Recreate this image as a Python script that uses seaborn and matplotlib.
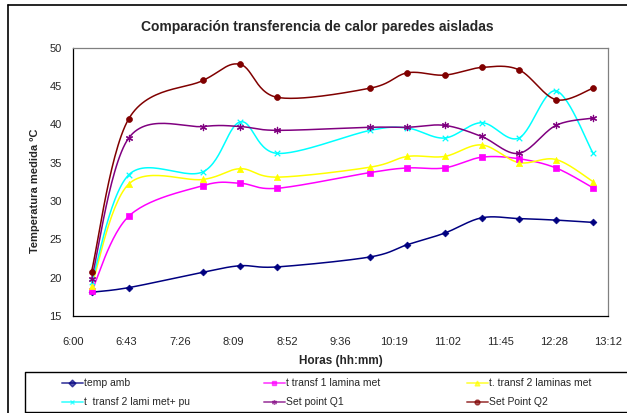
import numpy as np
import pandas as pd
import matplotlib
matplotlib.use("Agg")
import matplotlib.pyplot as plt
from matplotlib.lines import Line2D
import seaborn as sns

# Datos
horas = ["6:15", "6:45", "7:45", "8:15", "8:45", "10:00",
         "10:30", "11:00", "11:30", "12:00", "12:30", "13:00"]
temp_amb = [18.1, 18.7, 20.7, 21.55, 21.4, 22.7, 24.3, 25.8, 27.8, 27.7, 27.5, 27.2]
transf_1_lamina = [18.2, 28.0, 32.0, 32.3, 31.65, 33.7, 34.3, 34.3, 35.7, 35.5, 34.3, 31.7]
transf_2_laminas = [18.9, 32.2, 32.8, 34.2, 33.1, 34.4, 35.8, 35.8, 37.3, 35.0, 35.4, 32.5]
transf_2_lami_pu = [19.4, 33.4, 33.8, 40.3, 36.2, 39.2, 39.5, 38.2, 40.2, 38.2, 44.35, 36.2]
set_point_q1 = [19.8, 38.2, 39.7, 39.7, 39.2, 39.6, 39.6, 39.85, 38.4, 36.2, 39.85, 40.8]
set_point_q2 = [20.8, 40.7, 45.7, 47.8, 43.5, 44.7, 46.7, 46.4, 47.4, 47.1, 43.2, 44.7]

series_nombres = ["temp amb", "t transf 1 lamina met", "t. transf 2 laminas met",
                  "t  transf 2 lami met+ pu", "Set point Q1", "Set Point Q2"]
series_valores = [temp_amb, transf_1_lamina, transf_2_laminas,
                  transf_2_lami_pu, set_point_q1, set_point_q2]
colores = ["#000080", "#FF00FF", "#FFFF00", "#00FFFF", "#800080", "#800000"]
marcadores = ["D", "s", "^", "x", (6, 2, 0), "o"]
tamanos = [12, 15, 20, 16, 20, 18]

tick_labels = ["6:00", "6:43", "7:26", "8:09", "8:52", "9:36",
               "10:19", "11:02", "11:45", "12:28", "13:12"]


def a_minutos(h):
    hh, mm = h.split(":")
    return int(hh) * 60 + int(mm)


def suavizar(x, y, n=30):
    # curva suavizada tipo Excel (Catmull-Rom en forma Bezier)
    pts = np.column_stack([x, y]).astype(float)
    P = np.vstack([pts[0], pts, pts[-1]])
    out = []
    t = np.linspace(0, 1, n)[:, None]
    for i in range(1, len(P) - 2):
        p0, p1, p2, p3 = P[i - 1], P[i], P[i + 1], P[i + 2]
        c1 = p1 + (p2 - p0) / 6
        c2 = p2 - (p3 - p1) / 6
        seg = (1 - t) ** 3 * p1 + 3 * (1 - t) ** 2 * t * c1 + 3 * (1 - t) * t ** 2 * c2 + t ** 3 * p2
        out.append(seg if i == 1 else seg[1:])
    return np.vstack(out)


x_min = np.array([a_minutos(h) for h in horas])

sns.set_style("white")
plt.rcParams['font.family'] = ['Liberation Sans', 'DejaVu Sans']

fig = plt.figure(figsize=(6.27, 4.13), dpi=100)
ax = fig.add_axes([73 / 627, 1 - 316 / 413, 535 / 627, 268.5 / 413])

for nombre, vals, col, mk, sz in zip(series_nombres, series_valores, colores, marcadores, tamanos):
    curva = suavizar(x_min, vals)
    df_c = pd.DataFrame({"x": curva[:, 0], "y": curva[:, 1]})
    sns.lineplot(data=df_c, x="x", y="y", estimator=None, sort=False,
                 color=col, linewidth=1.1, ax=ax, legend=False)
    df_p = pd.DataFrame({"x": x_min, "y": vals})
    if mk in ("x", (6, 2, 0)):
        sns.scatterplot(data=df_p, x="x", y="y", marker=mk, color=col, s=sz,
                        linewidth=0.9, ax=ax, legend=False, zorder=3)
    else:
        sns.scatterplot(data=df_p, x="x", y="y", marker=mk, color=col, s=sz,
                        edgecolor=col, linewidth=0.5, ax=ax, legend=False, zorder=3)

ticks = [360 + 43.2 * k for k in range(len(tick_labels))]
ax.set_xlim(360, 792)
ax.set_ylim(15, 50)
ax.set_xticks(ticks)
ax.set_xticklabels(tick_labels)
ax.set_yticks(range(15, 51, 5))
ax.tick_params(axis="x", direction="out", length=4, width=0.8, pad=11, labelsize=8, color="black")
ax.tick_params(axis="y", direction="out", length=4, width=0.8, pad=4, labelsize=8, color="black")

for lado in ["left", "bottom"]:
    ax.spines[lado].set_color("black")
    ax.spines[lado].set_linewidth(0.9)
for lado in ["top", "right"]:
    ax.spines[lado].set_color("#808080")
    ax.spines[lado].set_linewidth(0.9)

ax.set_xlabel("Horas (hh:mm)", fontsize=8.5, fontweight="bold")
ax.xaxis.set_label_coords(0.5, -0.145)
ax.set_ylabel("Temperatura medida ºC", fontsize=8, fontweight="bold")
ax.yaxis.set_label_coords(-0.062, 0.465)

fig.text(317 / 627, 1 - 27 / 413, "Comparación transferencia de calor paredes aisladas",
         ha="center", va="center", fontsize=10, fontweight="bold")

# marco exterior y caja de leyenda
fig.add_artist(Line2D([8 / 627, 8 / 627], [0, 1 - 5 / 413], transform=fig.transFigure, color="black", lw=1.2))
fig.add_artist(Line2D([8 / 627, 1], [1 - 5 / 413, 1 - 5 / 413], transform=fig.transFigure, color="black", lw=1.2))
fig.add_artist(Line2D([25 / 627, 25 / 627, 1], [1 - 412 / 413, 1 - 372 / 413, 1 - 372 / 413],
                      transform=fig.transFigure, color="black", lw=1.0))
fig.add_artist(Line2D([25 / 627, 1], [1 - 412 / 413, 1 - 412 / 413],
                      transform=fig.transFigure, color="black", lw=1.0))

handles = []
for nombre, col, mk in zip(series_nombres, colores, marcadores):
    handles.append(Line2D([0], [0], color=col, alpha=0.65, lw=1.4, marker=mk,
                          markersize=3.5, markerfacecolor=col, markeredgecolor=col))

col_x = [62, 264, 467]
for j in range(3):
    hs = [handles[j], handles[j + 3]]
    fig.legend(hs, [series_nombres[j], series_nombres[j + 3]], loc="upper left",
               bbox_to_anchor=(col_x[j] / 627, 1 - 378.5 / 413), frameon=False,
               borderpad=0, borderaxespad=0, fontsize=7.5, handlelength=2.0,
               handletextpad=0.15, labelspacing=0.85, markerscale=1.0)

fig.savefig("out.png", dpi=100)
